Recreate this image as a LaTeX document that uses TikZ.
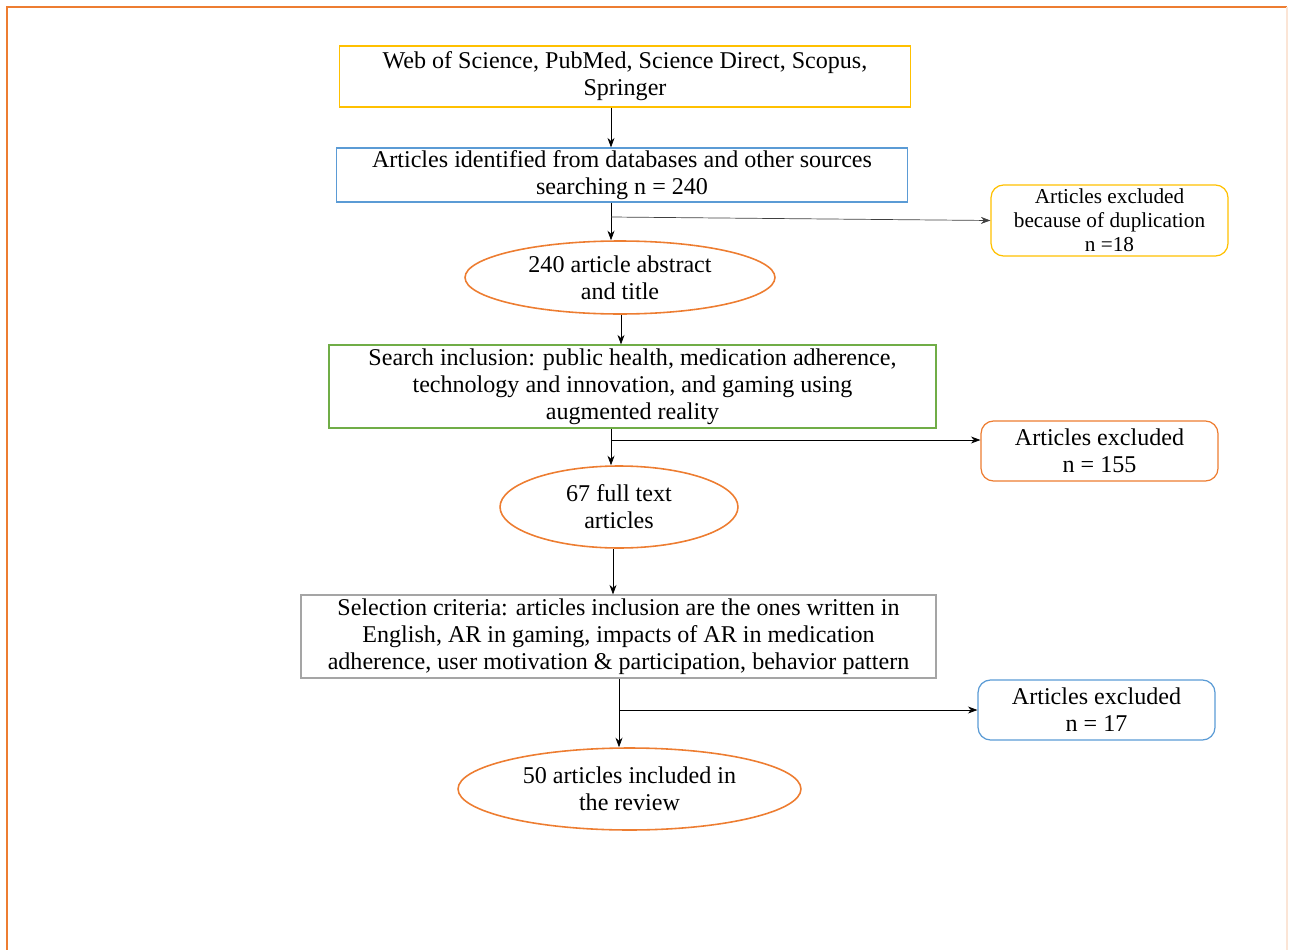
\documentclass[tikz,border=0pt]{standalone}
\usepackage{fontspec}
\setmainfont{Liberation Serif}
\usetikzlibrary{shapes.geometric}
\usetikzlibrary{arrows.meta}
\definecolor{goldline}{RGB}{255,192,0}
\definecolor{blueline}{RGB}{91,155,213}
\definecolor{greenline}{RGB}{112,173,71}
\definecolor{orangeline}{RGB}{237,125,49}
\definecolor{grayline}{RGB}{165,165,165}
\begin{document}
\begin{tikzpicture}[x=0.02cm,y=-0.02cm,
  box/.style={draw,rectangle,align=center,inner sep=0pt,line width=0.7pt,font=\fontsize{13.7}{15.3}\selectfont},
  oval/.style={draw=orangeline,ellipse,align=center,inner sep=0pt,line width=0.9pt,font=\fontsize{13.7}{15.3}\selectfont},
  side/.style={box,rounded corners=2.5mm,minimum width=4.74cm}]
\def\l{1.9mm}
\def\w{1.4mm}
\useasboundingbox (0,0) rectangle (1292,950);
%frame
\draw[orangeline,line width=0.9pt] (7,950) -- (7,7) -- (1287,7);
\draw[orangeline!20,line width=0.9pt] (1287,7) -- (1287,950);

\node [box, draw=goldline, minimum width=11.42cm, minimum height=1.22cm, name=a1]   at (625,76.5) {Web of Science, PubMed, Science Direct, Scopus,\\Springer};
\node [box, draw=blueline, minimum width=11.42cm, minimum height=1.08cm, name=a2]   at (622,175) {Articles identified from databases and other sources\\searching n = 240};
\node [oval, minimum width=6.2cm, minimum height=1.46cm, name=a3]                   at (620,277.5) {240 article abstract\\and title};
\node [box, draw=greenline, minimum width=12.14cm, minimum height=1.66cm, name=a4]  at (632.5,386.5) {Search inclusion: public health, medication adherence,\\technology and innovation, and gaming using\\augmented reality};
\node [oval, minimum width=4.76cm, minimum height=1.64cm, name=a5]                  at (619,507) {67 full text\\articles};
\node [box, draw=grayline, minimum width=12.7cm, minimum height=1.66cm, name=a6]    at (618.5,636.5) {Selection criteria: articles inclusion are the ones written in\\English, AR in gaming, impacts of AR in medication\\adherence, user motivation \& participation, behavior pattern};
\node [oval, minimum width=6.86cm, minimum height=1.64cm, name=a7]                  at (629.5,789) {50 articles included in\\the review};

\node [side, draw=goldline, minimum height=1.42cm, font=\fontsize{12.1}{13.6}\selectfont, name=e1] at (1109.5,220.5) {Articles excluded\\because of duplication\\n =18};
\node [side, draw=orangeline, minimum height=1.2cm, name=e2]  at (1099.5,451) {Articles excluded\\n = 155};
\node [side, draw=blueline, minimum height=1.2cm, name=e3]    at (1096.5,710) {Articles excluded\\n = 17};

\coordinate (k1) at (611,0);
\coordinate (k2) at (621,0);
\coordinate (k3) at (613,0);
\coordinate (k4) at (619,0);
\coordinate (j1) at (611,217);
\coordinate (j2) at (611,440);
\coordinate (j3) at (620,710);

\draw [-{Stealth[length=\l, width=\w]}](a1.south -| k1) to (a2.north -| k1);
\draw [-{Stealth[length=\l, width=\w]}](a2.south -| k1) to (a3.north -| k1);
\draw [-{Stealth[length=\l, width=\w]}](a3.south -| k2) to (a4.north -| k2);
\draw [-{Stealth[length=\l, width=\w]}](a4.south -| k1) to (a5.north -| k1);
\draw [-{Stealth[length=\l, width=\w]}](a5.south -| k3) to (a6.north -| k3);
\draw [-{Stealth[length=\l, width=\w]}](a6.south -| k4) to (a7.north -| k4);
\draw [-{Stealth[length=\l, width=\w]}, black!75](j1) to (e1.west);
\draw [-{Stealth[length=\l, width=\w]}](j2) to (e2.west |- j2);
\draw [-{Stealth[length=\l, width=\w]}](j3) to (e3.west);
\end{tikzpicture}
\end{document}
